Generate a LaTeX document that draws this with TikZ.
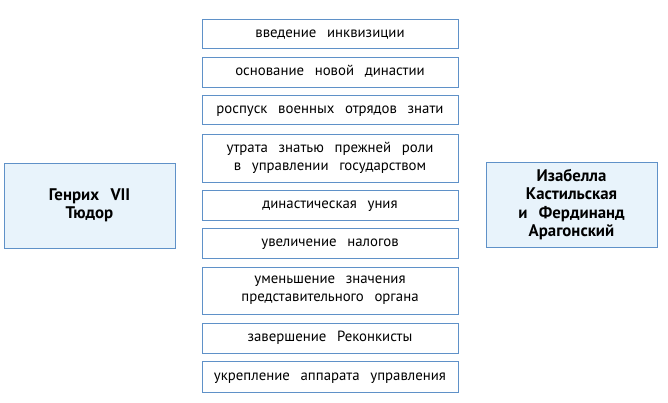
\documentclass[tikz,border=0pt]{standalone}
\usepackage{fontspec}
\setmainfont[WordSpace=2.7]{PT Sans}
\definecolor{bord}{RGB}{95,145,200}
\definecolor{sidefill}{RGB}{232,243,251}
\begin{document}
\begin{tikzpicture}[x=1pt,y=-1pt,
  box/.style={draw=bord,line width=0.9pt,fill=white,inner sep=0pt},
  cbox/.style={box,minimum width=256pt,align=center,font=\fontsize{14.8}{18.3}\selectfont},
  onebox/.style={cbox,text height=10pt,text depth=2.5pt},
  sbox/.style={box,fill=sidefill,minimum width=171pt,minimum height=85pt,align=center,font=\bfseries\fontsize{16.8}{18.5}\selectfont}]
\useasboundingbox (0,0) rectangle (668,403);
\fill[white] (0,0) rectangle (668,403);
\node[onebox,minimum height=29pt] (b1) at (330,33.5) {введение инквизиции};
\node[onebox,minimum height=30pt] (b2) at (330,72) {основание новой династии};
\node[onebox,minimum height=29pt] (b3) at (330,109.5) {роспуск военных отрядов знати};
\node[cbox,minimum height=48pt] (b4) at (330,158) {утрата знатью прежней роли\\в управлении государством};
\node[onebox,minimum height=30pt] (b5) at (330,205) {династическая уния};
\node[onebox,minimum height=30pt] (b6) at (330,243) {увеличение налогов};
\node[cbox,minimum height=47pt] (b7) at (330,290.5) {уменьшение значения\\представительного органа};
\node[onebox,minimum height=30pt] (b8) at (330,338) {завершение Реконкисты};
\node[onebox,minimum height=31pt] (b9) at (330,376.5) {укрепление аппарата управления};
\node[sbox] (l) at (89.5,205.5) {Генрих VII\\Тюдор};
\node[sbox] (r) at (571.5,204.5) {Изабелла\\Кастильская\\и Фердинанд\\Арагонский};
\end{tikzpicture}
\end{document}
